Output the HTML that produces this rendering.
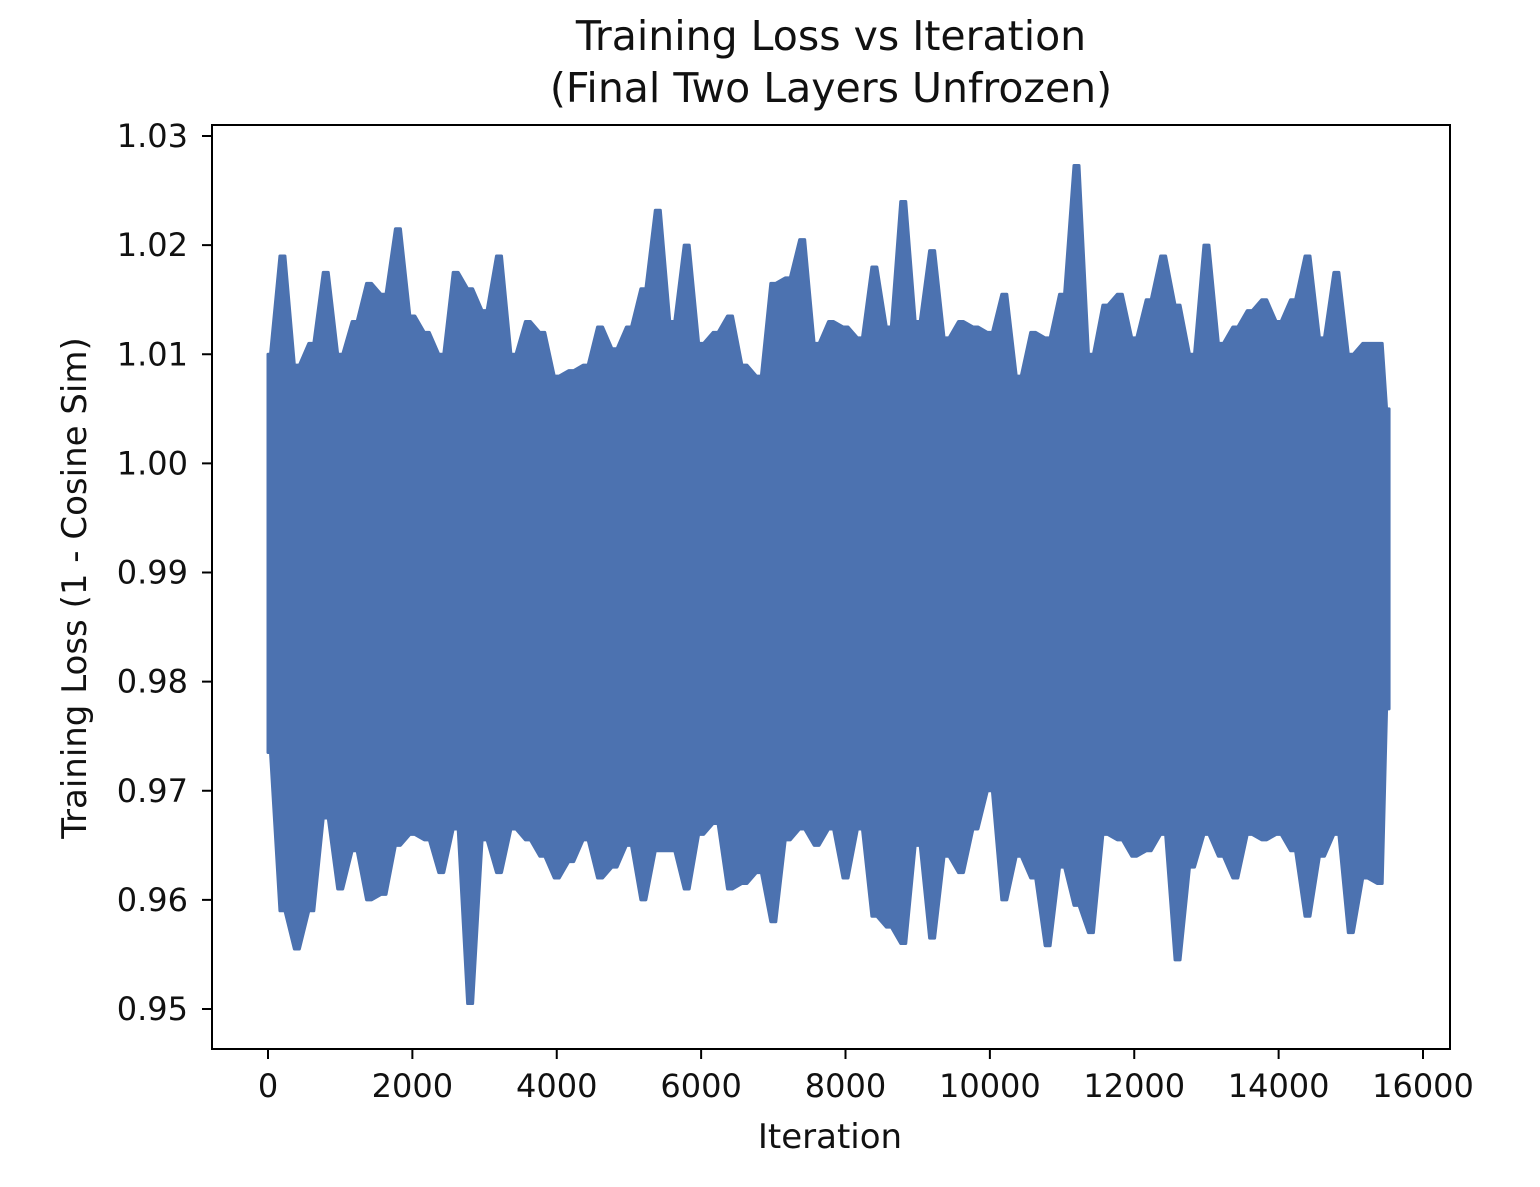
<!DOCTYPE html>
<html><head><meta charset="utf-8"><style>
html,body{margin:0;padding:0;background:#fff;}
svg text{font-family:"DejaVu Sans","Liberation Sans",sans-serif;fill:#111;}
</style></head><body>
<svg width="1540" height="1182" viewBox="0 0 1540 1182" xmlns="http://www.w3.org/2000/svg">
<g id="plot"></g>
<text x="831" y="50" font-size="41" text-anchor="middle">Training Loss vs Iteration</text>
<text x="831" y="102" font-size="41" text-anchor="middle">(Final Two Layers Unfrozen)</text>
<text x="830" y="1148" font-size="34" text-anchor="middle">Iteration</text>
<text transform="translate(86,588) rotate(-90)" font-size="34" text-anchor="middle">Training Loss (1 - Cosine Sim)</text>
</svg>
<script>
const xTicks=[0,2000,4000,6000,8000,10000,12000,14000,16000];
const yTicks=[0.95,0.96,0.97,0.98,0.99,1.00,1.01,1.02,1.03];
const yTickLabels=["0.95","0.96","0.97","0.98","0.99","1.00","1.01","1.02","1.03"];
const iters=[0,200,400,600,800,1000,1200,1400,1600,1800,2000,2200,2400,2600,2800,3000,3200,3400,3600,3800,4000,4200,4400,4600,4800,5000,5200,5400,5600,5800,6000,6200,6400,6600,6800,7000,7200,7400,7600,7800,8000,8200,8400,8600,8800,9000,9200,9400,9600,9800,10000,10200,10400,10600,10800,11000,11200,11400,11600,11800,12000,12200,12400,12600,12800,13000,13200,13400,13600,13800,14000,14200,14400,14600,14800,15000,15200,15400,15530];
const highs=[1.010,1.019,1.009,1.011,1.0175,1.010,1.013,1.0165,1.0155,1.0215,1.0135,1.012,1.010,1.0175,1.016,1.014,1.019,1.010,1.013,1.012,1.008,1.0085,1.009,1.0125,1.0105,1.0125,1.016,1.0232,1.013,1.020,1.011,1.012,1.0135,1.009,1.008,1.0165,1.017,1.0205,1.011,1.013,1.0125,1.0115,1.018,1.0125,1.024,1.013,1.0195,1.0115,1.013,1.0125,1.012,1.0155,1.008,1.012,1.0115,1.0155,1.0273,1.010,1.0145,1.0155,1.0115,1.015,1.019,1.0145,1.010,1.020,1.011,1.0125,1.014,1.015,1.013,1.015,1.019,1.0115,1.0175,1.010,1.011,1.011,1.005];
const lows=[0.9735,0.959,0.9555,0.959,0.9675,0.961,0.9645,0.960,0.9605,0.965,0.966,0.9655,0.9625,0.9665,0.9505,0.9655,0.9625,0.9665,0.9655,0.964,0.962,0.9635,0.9655,0.962,0.963,0.965,0.960,0.9645,0.9645,0.961,0.966,0.967,0.961,0.9615,0.9625,0.958,0.9655,0.9665,0.965,0.9665,0.962,0.9665,0.9585,0.9575,0.956,0.965,0.9565,0.964,0.9625,0.9665,0.970,0.960,0.964,0.962,0.9558,0.963,0.9595,0.957,0.966,0.9655,0.964,0.9645,0.966,0.9545,0.963,0.966,0.964,0.962,0.966,0.9655,0.966,0.9645,0.9585,0.964,0.966,0.957,0.962,0.9615,0.9775];
const NS="http://www.w3.org/2000/svg";
const L=212,R=1450,T=125,B=1049;
const xs=v=>268+(v-0)*(1423-268)/16000;
const ys=v=>1009-(v-0.95)*(1009-136)/0.08;
const g=document.getElementById('plot');
function mk(t,a){const e=document.createElementNS(NS,t);for(const k in a)e.setAttribute(k,a[k]);g.appendChild(e);return e;}
let up=[],dn=[];
for(let i=0;i<iters.length;i++){
  const x0=xs(iters[i])-(i==0?0:2.5), x1=xs(iters[i])+(i==iters.length-1?0:2.5);
  up.push(x0+','+ys(highs[i]),x1+','+ys(highs[i]));
  dn.push(x0+','+ys(lows[i]),x1+','+ys(lows[i]));
}
const band=mk('polygon',{points:up.concat(dn.reverse()).join(' '),fill:'#4c72b0',stroke:'#4c72b0','stroke-width':3,'stroke-linejoin':'round'});


const frame=mk('rect',{x:L,y:T,width:R-L,height:B-T,fill:'none',stroke:'#000','stroke-width':2});


xTicks.forEach(v=>{
  const x=xs(v);
  const t=mk('line',{x1:x,x2:x,y1:B,y2:B+10,stroke:'#000','stroke-width':2});
  
  
  const tx=mk('text',{x:x,y:B+48,'font-size':32,'text-anchor':'middle'});
  tx.textContent=String(v);
  
  
});
yTicks.forEach((v,i)=>{
  const y=ys(v);
  const t=mk('line',{x1:L-10,x2:L,y1:y,y2:y,stroke:'#000','stroke-width':2});
  
  
  const tx=mk('text',{x:L-24,y:y+11,'font-size':32,'text-anchor':'end'});
  tx.textContent=yTickLabels[i];
  
  
});
</script>
</body></html>
